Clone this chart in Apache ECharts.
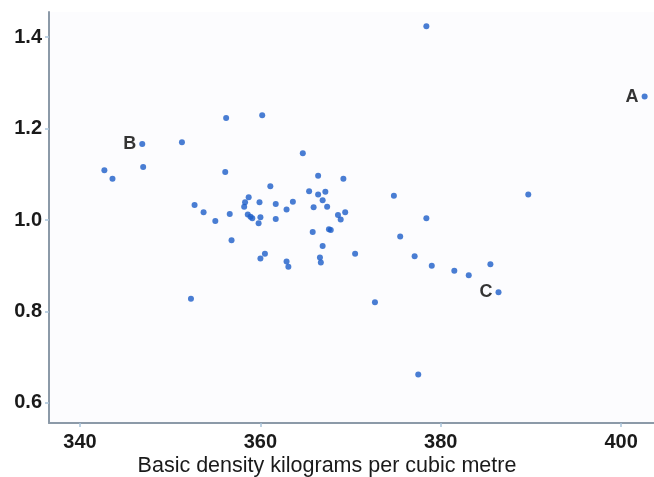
<!DOCTYPE html>
<html>
<head>
<meta charset="utf-8">
<script src="https://cdn.jsdelivr.net/npm/echarts@6/dist/echarts.min.js"></script>
<style>
  html, body { margin: 0; padding: 0; background: #fff; }
  #chart { width: 654px; height: 477px; }
</style>
</head>
<body>
<div id="chart"></div>
<script>
// basic density (x) and ratio (y)
const density = [
  378.4, 402.6, 346.9, 351.3, 342.7, 343.6, 347.0, 356.2, 360.2, 364.7,
  356.1, 361.1, 352.7, 353.7, 355.0, 356.6, 358.7, 358.3, 358.2, 359.9,
  361.7, 363.6, 362.9, 358.6, 358.9, 359.1, 360.0, 359.8, 361.7, 356.8,
  360.5, 360.0, 362.9, 363.1, 352.3, 366.4, 369.2, 365.4, 366.4, 367.2,
  366.9, 365.9, 367.4, 368.6, 368.9, 369.4, 374.8, 378.4, 365.8, 367.6,
  367.8, 375.5, 366.9, 370.5, 377.1, 366.6, 366.7, 379.0, 381.5, 383.1,
  385.5, 386.4, 372.7, 377.5, 389.7
];
const ratio = [
  1.424, 1.270, 1.166, 1.170, 1.109, 1.090, 1.116, 1.223, 1.229, 1.146,
  1.105, 1.074, 1.033, 1.017, 0.998, 1.013, 1.050, 1.039, 1.029, 1.039,
  1.035, 1.040, 1.023, 1.012, 1.007, 1.004, 1.006, 0.993, 1.002, 0.956,
  0.926, 0.916, 0.909, 0.898, 0.828, 1.097, 1.090, 1.063, 1.056, 1.062,
  1.043, 1.028, 1.029, 1.011, 1.001, 1.017, 1.053, 1.004, 0.974, 0.980,
  0.978, 0.964, 0.943, 0.926, 0.921, 0.918, 0.907, 0.900, 0.889, 0.879,
  0.903, 0.842, 0.820, 0.662, 1.056
];
// named points: index into the arrays above
const namedIdx = [1, 2, 61];
const namedText = ['A', 'B', 'C'];

const xTicks = [340, 360, 380, 400];
const yTicks = [0.6, 0.8, 1.0, 1.2, 1.4];
const xTitle = 'Basic density kilograms per cubic metre';

const chart = echarts.init(document.getElementById('chart'));

const points = density.map((d, i) => {
  const k = namedIdx.indexOf(i);
  const item = { value: [d, ratio[i]] };
  if (k >= 0) {
    item.label = {
      show: true,
      position: 'left',
      distance: 3,
      formatter: namedText[k],
      color: '#000',
      fontSize: 18,
      fontWeight: 'bold',
      fontFamily: 'Liberation Sans, Arial, sans-serif'
    };
  }
  return item;
});

const axisFont = {
  color: '#1a1a1a',
  fontSize: 20,
  fontWeight: 'bold',
  fontFamily: 'Liberation Sans, Arial, sans-serif'
};

chart.setOption({
  backgroundColor: '#fff',
  animation: false,
  // x axis title is centred on the whole figure, not the plot
  title: {
    text: xTitle,
    left: 'center',
    top: 455,
    padding: 0,
    textStyle: {
      color: '#1a1a1a',
      fontSize: 21.5,
      fontWeight: 'normal',
      fontFamily: 'Liberation Sans, Arial, sans-serif'
    }
  },
  grid: {
    left: 49, right: 0, top: 12, bottom: 54,
    show: true,
    backgroundColor: '#fcfcfe',
    borderWidth: 0
  },
  xAxis: {
    type: 'value',
    min: 336.56,
    max: 403.64,
    axisLine: { show: true, lineStyle: { color: '#8c9aa8', width: 2 } },
    axisTick: { show: true, customValues: xTicks, length: 4, lineStyle: { color: '#a9c3da', width: 1.5 } },
    axisLabel: { customValues: xTicks, margin: 9, ...axisFont },
    splitLine: { show: false }
  },
  yAxis: {
    type: 'value',
    min: 0.556,
    max: 1.455,
    axisLine: { show: true, lineStyle: { color: '#8c9aa8', width: 2 } },
    axisTick: { show: true, customValues: yTicks, length: 4, lineStyle: { color: '#a9c3da', width: 1.5 } },
    axisLabel: {
      customValues: yTicks,
      margin: 7,
      formatter: v => v.toFixed(1),
      ...axisFont
    },
    splitLine: { show: false }
  },
  series: [{
    type: 'scatter',
    symbolSize: 6,
    itemStyle: { color: '#1b5cc8' },
    data: points
  }]
});
</script>
</body>
</html>
